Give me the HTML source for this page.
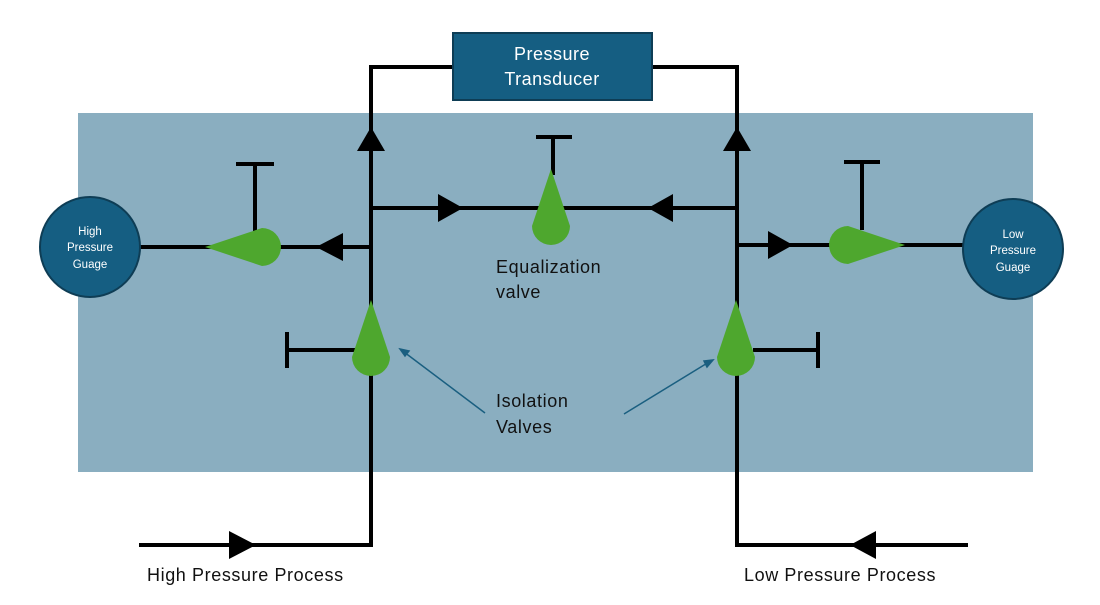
<!DOCTYPE html>
<html><head><meta charset="utf-8"><style>
html,body{margin:0;padding:0;background:#fff;}
svg{display:block;font-family:"Liberation Sans",sans-serif;}
</style></head><body>
<svg width="1100" height="605" viewBox="0 0 1100 605" xmlns="http://www.w3.org/2000/svg">
<defs>
<path id="drop" d="M0,-57 L-19,0 A19,19 0 1 0 19,0 Z" fill="#4ea72e"/>
</defs>
<rect x="78" y="113" width="955" height="359" fill="#8aaec0"/>
<g stroke="#000" stroke-width="4" fill="none">
<polyline points="452,67 371,67 371,545 139,545"/>
<polyline points="653,67 737,67 737,545 968,545"/>
<line x1="371" y1="208" x2="737" y2="208"/>
<line x1="140" y1="247" x2="371" y2="247"/>
<line x1="737" y1="245" x2="963" y2="245"/>
<line x1="553" y1="137" x2="553" y2="175"/><line x1="536" y1="137" x2="572" y2="137"/>
<line x1="255" y1="164" x2="255" y2="232"/><line x1="236" y1="164" x2="274" y2="164"/>
<line x1="862" y1="162" x2="862" y2="230"/><line x1="844" y1="162" x2="880" y2="162"/>
<line x1="287" y1="350" x2="355" y2="350"/><line x1="287" y1="332" x2="287" y2="368"/>
<line x1="753" y1="350" x2="818" y2="350"/><line x1="818" y1="332" x2="818" y2="368"/>
</g>
<g fill="#000">
<polygon points="371,127 357,151 385,151"/>
<polygon points="737,127 723,151 751,151"/>
<polygon points="463,208 438,194 438,222"/>
<polygon points="648,208 673,194 673,222"/>
<polygon points="316,247 343,233 343,261"/>
<polygon points="793,245 768,231 768,259"/>
<polygon points="256,545 229,531 229,559"/>
<polygon points="850,545 876,531 876,559"/>
</g>
<use href="#drop" transform="translate(551,226)"/>
<use href="#drop" transform="translate(262,247) rotate(-90)"/>
<use href="#drop" transform="translate(848,245) rotate(90)"/>
<use href="#drop" transform="translate(371,357)"/>
<use href="#drop" transform="translate(736,357)"/>
<rect x="453" y="33" width="199" height="67" fill="#155e82" stroke="#0e3d55" stroke-width="2"/>
<text x="552" y="60" font-size="18" fill="#fff" text-anchor="middle" letter-spacing="0.5">Pressure</text>
<text x="552" y="85" font-size="18" fill="#fff" text-anchor="middle" letter-spacing="0.5">Transducer</text>
<circle cx="90" cy="247" r="50" fill="#155e82" stroke="#0e3d55" stroke-width="2"/>
<circle cx="1013" cy="249" r="50" fill="#155e82" stroke="#0e3d55" stroke-width="2"/>
<g font-size="11.5" fill="#fff" text-anchor="middle">
<text x="90" y="235">High</text><text x="90" y="251">Pressure</text><text x="90" y="268">Guage</text>
<text x="1013" y="238">Low</text><text x="1013" y="254">Pressure</text><text x="1013" y="271">Guage</text>
</g>
<g font-size="18" fill="#111" letter-spacing="0.6">
<text x="496" y="273">Equalization</text><text x="496" y="298">valve</text>
<text x="496" y="407">Isolation</text><text x="496" y="433">Valves</text>
<text x="147" y="581">High Pressure Process</text>
<text x="744" y="581">Low Pressure Process</text>
</g>
<g stroke="#1a5f80" stroke-width="1.5" fill="#1a5f80">
<line x1="485" y1="413" x2="404" y2="352"/>
<polygon points="400,349 409,351 405,356"/>
<line x1="624" y1="414" x2="709" y2="362"/>
<polygon points="713,360 707,367 704,361"/>
</g>
</svg>
</body></html>
